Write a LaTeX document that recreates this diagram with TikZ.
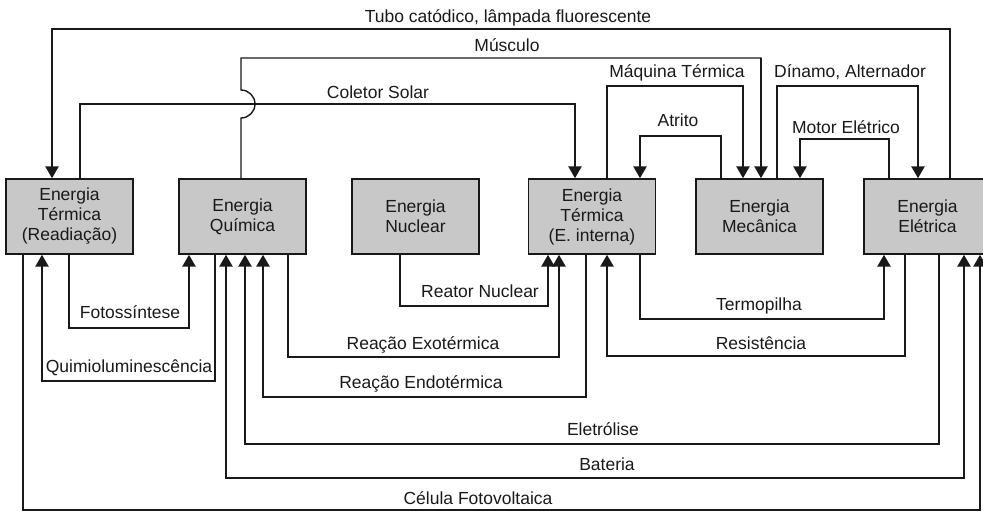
\documentclass[tikz,border=0pt]{standalone}
\usepackage{fontspec}
\setmainfont{Liberation Sans}
\usetikzlibrary{arrows.meta}
\definecolor{boxgray}{RGB}{200,200,200}
\definecolor{ink}{RGB}{25,25,25}
\begin{document}
\begin{tikzpicture}[x=1pt,y=-1pt,
  box/.style={draw=ink, line width=1.4pt, fill=boxgray, minimum width=127pt, minimum height=75pt, inner sep=0pt, align=center, font=\fontsize{17.5}{20}\selectfont, text=ink},
  wire/.style={draw=ink, line width=1.4pt, line cap=rect},
  feed/.style={draw=ink, line width=2.6pt, -{Triangle[length=12pt,width=13pt]}},
  lbl/.style={font=\fontsize{17.5}{20}\selectfont, text=ink, anchor=base, inner sep=0pt}]
\useasboundingbox (0,0) rectangle (983,512);

% boxes
\node[box] (b1) at (69.5,216.5) {Energia\\Térmica\\(Readiação)};
\node[box] (b2) at (242.5,216.5) {Energia\\Química};
\node[box] (b3) at (415.5,216.5) {Energia\\Nuclear};
\node[box] (b4) at (592,216.5) {Energia\\Térmica\\(E. interna)};
\node[box] (b5) at (759.5,216.5) {Energia\\Mecânica};
\node[box] (b6) at (927.5,216.5) {Energia\\Elétrica};

% corner coordinates
\coordinate (tubA) at (950,29);  \coordinate (tubB) at (52,29);
\coordinate (musA) at (241,58);  \coordinate (musB) at (761,58);
\coordinate (colA) at (80,104);  \coordinate (colB) at (575,104);
\coordinate (maqA) at (607,86);  \coordinate (maqB) at (743,86);
\coordinate (atrA) at (721,136); \coordinate (atrB) at (640,136);
\coordinate (dinA) at (777,86);  \coordinate (dinB) at (918,86);
\coordinate (motA) at (889,139); \coordinate (motB) at (800,139);
\coordinate (fotA) at (69,328);  \coordinate (fotB) at (189,328);
\coordinate (quiA) at (215,381); \coordinate (quiB) at (42,381);
\coordinate (celA) at (23,510);  \coordinate (celB) at (980,510);
\coordinate (batA) at (964,478); \coordinate (batB) at (226,478);
\coordinate (eleA) at (939,444); \coordinate (eleB) at (245,444);
\coordinate (endA) at (586,397); \coordinate (endB) at (263,397);
\coordinate (exoA) at (288,357); \coordinate (exoB) at (559,357);
\coordinate (reaA) at (400,306); \coordinate (reaB) at (548,306);
\coordinate (terA) at (640,319); \coordinate (terB) at (884,319);
\coordinate (resA) at (905,356); \coordinate (resB) at (607,356);

% top connectors
\draw[wire] (tubA |- b6.north) -- (tubA) -- (tubB);
\draw[feed] (tubB) -- (tubB |- b1.north);
\draw[wire] (musA |- b2.north) -- (241,118) .. controls (248.7,118) and (255,111.7) .. (255,104)
  .. controls (255,96.3) and (248.7,90) .. (241,90) -- (musA) -- (musB);
\draw[feed] (musB) -- (musB |- b5.north);
\draw[wire] (colA |- b1.north) -- (colA) -- (colB);
\draw[feed] (colB) -- (colB |- b4.north);
\draw[wire] (maqA |- b4.north) -- (maqA) -- (maqB);
\draw[feed] (maqB) -- (maqB |- b5.north);
\draw[wire] (atrA |- b5.north) -- (atrA) -- (atrB);
\draw[feed] (atrB) -- (atrB |- b4.north);
\draw[wire] (dinA |- b5.north) -- (dinA) -- (dinB);
\draw[feed] (dinB) -- (dinB |- b6.north);
\draw[wire] (motA |- b6.north) -- (motA) -- (motB);
\draw[feed] (motB) -- (motB |- b5.north);

% bottom connectors
\draw[wire] (fotA |- b1.south) -- (fotA) -- (fotB);
\draw[feed] (fotB) -- (fotB |- b2.south);
\draw[wire] (quiA |- b2.south) -- (quiA) -- (quiB);
\draw[feed] (quiB) -- (quiB |- b1.south);
\draw[wire] (celA |- b1.south) -- (celA) -- (celB);
\draw[feed] (celB) -- (celB |- b6.south);
\draw[wire] (batA) -- (batB);
\draw[feed] (batA) -- (batA |- b6.south);
\draw[feed] (batB) -- (batB |- b2.south);
\draw[wire] (eleA |- b6.south) -- (eleA) -- (eleB);
\draw[feed] (eleB) -- (eleB |- b2.south);
\draw[wire] (endA |- b4.south) -- (endA) -- (endB);
\draw[feed] (endB) -- (endB |- b2.south);
\draw[wire] (exoA |- b2.south) -- (exoA) -- (exoB);
\draw[feed] (exoB) -- (exoB |- b4.south);
\draw[wire] (reaA |- b3.south) -- (reaA) -- (reaB);
\draw[feed] (reaB) -- (reaB |- b4.south);
\draw[wire] (terA |- b4.south) -- (terA) -- (terB);
\draw[feed] (terB) -- (terB |- b6.south);
\draw[wire] (resA |- b6.south) -- (resA) -- (resB);
\draw[feed] (resB) -- (resB |- b4.south);

% labels
\node[lbl] (lTub) at (508,22.5) {Tubo catódico, lâmpada fluorescente};
\node[lbl] (lMus) at (507,51) {Músculo};
\node[lbl] (lCol) at (378,98) {Coletor Solar};
\node[lbl] (lMaq) at (677,77) {Máquina Térmica};
\node[lbl] (lDin) at (850,77) {Dínamo, Alternador};
\node[lbl] (lAtr) at (678,126) {Atrito};
\node[lbl] (lMot) at (846,133) {Motor Elétrico};
\node[lbl] (lFot) at (130,318) {Fotossíntese};
\node[lbl] (lQui) at (129,372) {Quimioluminescência};
\node[lbl] (lRea) at (480,297) {Reator Nuclear};
\node[lbl] (lExo) at (423,349) {Reação Exotérmica};
\node[lbl] (lEnd) at (421,388) {Reação Endotérmica};
\node[lbl] (lEle) at (603,435) {Eletrólise};
\node[lbl] (lBat) at (607,470) {Bateria};
\node[lbl] (lCel) at (478,504) {Célula Fotovoltaica};
\node[lbl] (lTer) at (759,310) {Termopilha};
\node[lbl] (lRes) at (761,349) {Resistência};
\end{tikzpicture}
\end{document}
